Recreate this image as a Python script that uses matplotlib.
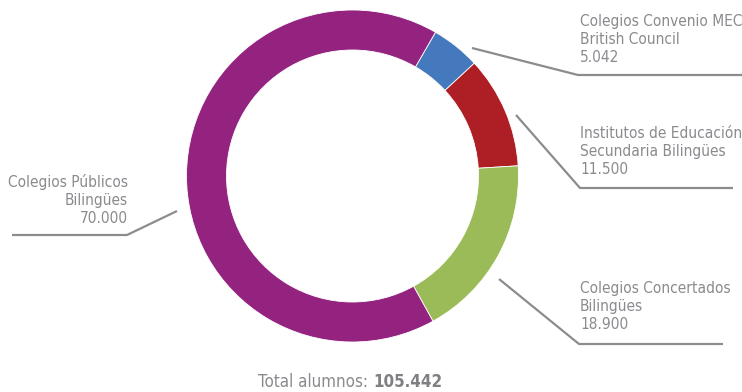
import matplotlib
matplotlib.use("Agg")
import matplotlib.pyplot as plt

# data
labels = ["Colegios Convenio MEC\nBritish Council", "Institutos de Educación\nSecundaria Bilingües",
          "Colegios Concertados\nBilingües", "Colegios Públicos\nBilingües"]
values = [5042, 11500, 18900, 70000]
value_text = ["5.042", "11.500", "18.900", "70.000"]
colors = ["#4479BD", "#AD1F24", "#9BBB59", "#93237F"]
total_text = "105.442"

# the reference uses a condensed sans face
plt.rcParams["font.family"] = ["DejaVu Sans", "Liberation Sans"]
STRETCH = "condensed"
GREY_TXT = "#8a8a8f"
GREY_LINE = "#8c8c8c"

W, H = 742, 392
fig = plt.figure(figsize=(W / 100, H / 100), dpi=100)
ax = fig.add_axes([0, 0, 1, 1])


def py(y):
    # pixel row (from top) -> data y
    return H - y


cx, cy, r = 352.5, 176, 166
ax.pie(values, colors=colors, startangle=60, counterclock=False,
       center=(cx, py(cy)), radius=r, frame=True,
       wedgeprops=dict(width=40, linewidth=0.6, edgecolor="white"))
ax.set_xlim(0, W)
ax.set_ylim(0, H)
ax.set_aspect("equal")
ax.axis("off")

# leader lines: (start, knee, end) in pixels
leaders = [
    [(472, 48), (578, 75), (742, 75)],
    [(516, 115), (580, 188), (733, 188)],
    [(499, 279), (579, 344), (723, 344)],
    [(177, 211), (127, 235), (12, 235)],
]
for pts in leaders:
    ax.plot([p[0] for p in pts], [py(p[1]) for p in pts], color=GREY_LINE, lw=1.6,
            solid_capstyle="butt")

# font size so "Colegios Convenio MEC" is as wide as in the reference (~162 px)
probe = ax.text(0, 0, "Colegios Convenio MEC", fontsize=13, fontstretch=STRETCH)
fig.canvas.draw()
wpx = probe.get_window_extent().width
probe.remove()
fs = min(13, 13 * 162 / wpx)

label_pos = [(580, 14, "left"), (580, 126, "left"), (580, 281, "left"), (128, 174, "right")]
for (x, y, ha), lab, v in zip(label_pos, labels, value_text):
    ax.text(x, py(y), lab + "\n" + v, ha=ha, va="top", fontsize=fs, color=GREY_TXT,
            linespacing=1.25, multialignment=ha, fontstretch=STRETCH)

fs_tot = fs * 1.1
ax.text(373, py(382), "Total alumnos: ", ha="right", va="center", fontsize=fs_tot, color=GREY_TXT,
        fontstretch=STRETCH)
ax.text(373, py(382), total_text, ha="left", va="center", fontsize=fs_tot, color="#7f7f84",
        fontweight="bold", fontstretch=STRETCH)

fig.savefig("out.png", dpi=100, facecolor="white")
